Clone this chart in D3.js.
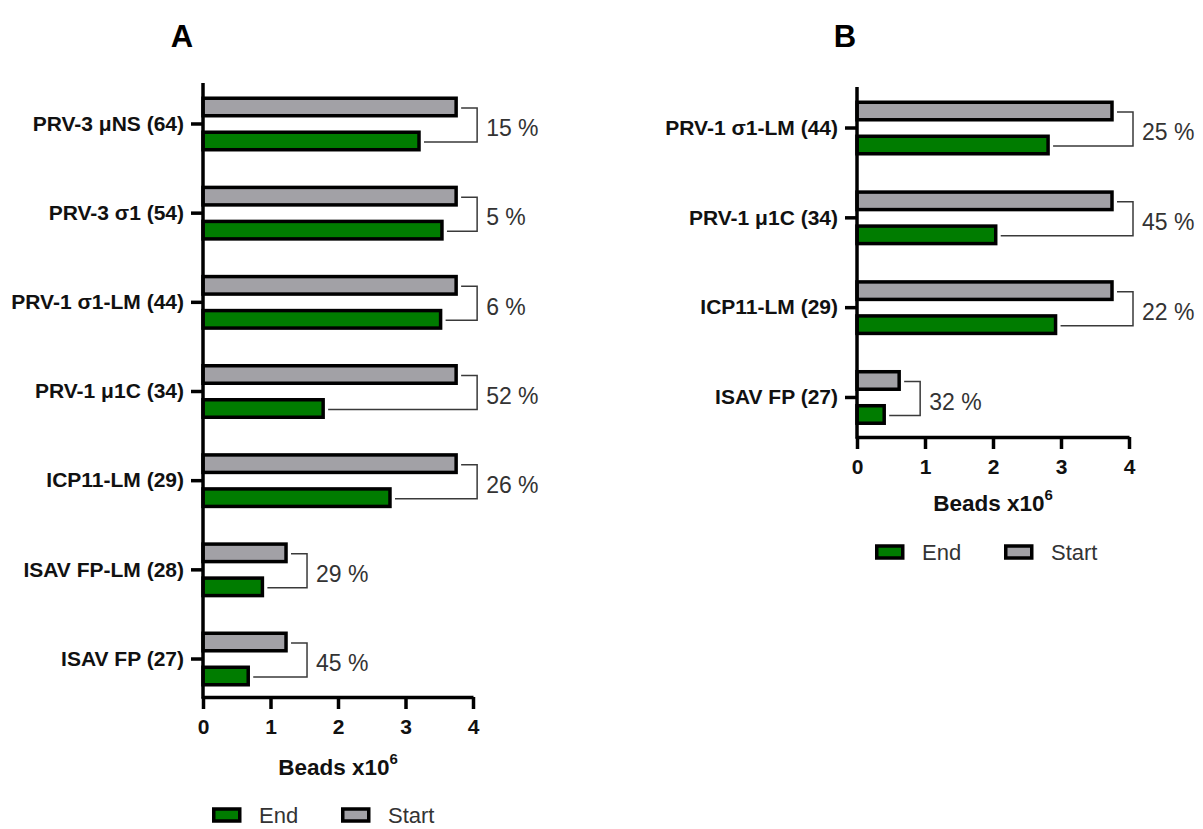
<!DOCTYPE html>
<html>
<head>
<meta charset="utf-8">
<script src="https://cdn.jsdelivr.net/npm/d3@7"></script>
<style>
  body { margin: 0; background: #fff; }
  text { font-family: "Liberation Sans", Arial, sans-serif; }
</style>
</head>
<body>
<div id="CHART"></div>
<script>
// panel A data (Beads x10^6)
var catsA = ["PRV-3 μNS (64)", "PRV-3 σ1 (54)", "PRV-1 σ1-LM (44)", "PRV-1 μ1C (34)", "ICP11-LM (29)", "ISAV FP-LM (28)", "ISAV FP (27)"];
var startA = [3.75, 3.75, 3.75, 3.75, 3.75, 1.23, 1.23];
var endA = [3.2, 3.54, 3.52, 1.78, 2.77, 0.88, 0.67];
var pctA = ["15 %", "5 %", "6 %", "52 %", "26 %", "29 %", "45 %"];

// panel B data
var catsB = ["PRV-1 σ1-LM (44)", "PRV-1 μ1C (34)", "ICP11-LM (29)", "ISAV FP (27)"];
var startB = [3.75, 3.75, 3.75, 0.62];
var endB = [2.81, 2.04, 2.92, 0.40];
var pctB = ["25 %", "45 %", "22 %", "32 %"];

var xTicks = [0, 1, 2, 3, 4];
var seriesNames = ["Start", "End"];

var WIDTH = 1203, HEIGHT = 829;
var GREEN = "#007c00", GREY = "#a2a1a6";
var barH = 17.5, barOff = 17, SW = 3.5;

var svg = d3.select("#CHART")
    .append("svg")
    .attr("width", WIDTH)
    .attr("height", HEIGHT);

function drawPanel(p) {
    var g = svg.append("g");

    var x = d3.scaleLinear().domain([0, 4]).range([p.left, p.right]);
    var y = d3.scaleBand().domain(p.cats).range([p.bandTop, p.bandBottom]);
    var sub = d3.scalePoint().domain(seriesNames).range([-barOff, barOff]);
    var fill = d3.scaleOrdinal().domain(seriesNames).range([GREY, GREEN]);

    var rows = p.cats.map(function(c, i) {
        return { cat: c, Start: p.start[i], End: p.end[i], pct: p.pct[i] };
    });
    function cy(d) { return y(d.cat) + y.bandwidth() / 2; }

    // bars
    var row = g.append("g").selectAll("g")
        .data(rows)
        .enter()
        .append("g");

    row.selectAll("rect")
        .data(function(d) { return seriesNames.map(function(k) { return { k: k, v: d[k], c: cy(d) }; }); })
        .enter()
        .append("rect")
        .attr("x", x(0))
        .attr("y", function(d) { return d.c + sub(d.k) - barH / 2; })
        .attr("width", function(d) { return x(d.v) - x(0); })
        .attr("height", barH)
        .attr("fill", function(d) { return fill(d.k); })
        .attr("stroke", "#000")
        .attr("stroke-width", SW);

    // brackets with percent
    row.append("path")
        .attr("fill", "none")
        .attr("stroke", "#3a3a3a")
        .attr("stroke-width", 1.5)
        .attr("d", function(d) {
            var vx = x(d.Start) + 21;
            var y1 = cy(d) + sub("Start") + 1, y2 = cy(d) + sub("End") + 1;
            return "M" + (x(d.Start) + 5) + "," + y1 + "H" + vx + "V" + y2 + "H" + (x(d.End) + 5);
        });

    row.append("text")
        .attr("x", function(d) { return x(d.Start) + 30; })
        .attr("y", function(d) { return cy(d) + 4 + 8.3; })
        .style("font-size", "23px")
        .attr("fill", "#333")
        .text(function(d) { return d.pct; });

    // y axis
    var ya = g.append("g")
        .attr("transform", "translate(" + x(0) + ",0)")
        .call(d3.axisLeft(y).tickSize(12).tickSizeOuter(0).tickPadding(7));
    ya.select(".domain").remove();
    ya.selectAll("line").attr("stroke", "#000").attr("stroke-width", SW);
    ya.selectAll("text")
        .style("font-size", "21px")
        .style("font-weight", "bold")
        .attr("fill", "#111");
    g.append("line")
        .attr("x1", x(0)).attr("x2", x(0))
        .attr("y1", p.axisTop).attr("y2", p.axisBottom + SW / 2)
        .attr("stroke", "#000")
        .attr("stroke-width", SW);

    // x axis
    var xa = g.append("g")
        .attr("transform", "translate(0," + p.axisBottom + ")")
        .call(d3.axisBottom(x).tickValues(xTicks).tickFormat(d3.format("d")).tickSize(12).tickSizeOuter(0).tickPadding(10));
    xa.select(".domain").attr("stroke", "#000").attr("stroke-width", SW);
    xa.selectAll("line").attr("stroke", "#000").attr("stroke-width", SW);
    xa.selectAll("text")
        .style("font-size", "21px")
        .style("font-weight", "bold")
        .attr("fill", "#111");

    // axis title
    var mid = (p.left + p.right) / 2;
    var t = g.append("text")
        .attr("x", mid)
        .attr("y", p.axisBottom + p.titleOff + 8)
        .attr("text-anchor", "middle")
        .style("font-size", "22.5px")
        .style("font-weight", "bold")
        .attr("fill", "#111")
        .text("Beads x10");
    t.append("tspan")
        .attr("dy", -11)
        .style("font-size", "15px")
        .text("6");

    // panel letter
    g.append("text")
        .attr("x", p.letterX)
        .attr("y", 47)
        .attr("text-anchor", "middle")
        .style("font-size", "31px")
        .style("font-weight", "bold")
        .text(p.letter);

    // legend
    var ly = p.axisBottom + p.legendOff;
    var leg = g.append("g").selectAll("g")
        .data(["End", "Start"])
        .enter()
        .append("g")
        .attr("transform", function(d, i) { return "translate(" + (p.left + p.legendX + i * 129) + "," + ly + ")"; });
    leg.append("rect")
        .attr("x", 1.75).attr("y", -6)
        .attr("width", 26).attr("height", 12)
        .attr("fill", function(d) { return fill(d); })
        .attr("stroke", "#000")
        .attr("stroke-width", SW);
    leg.append("text")
        .attr("x", 47)
        .attr("y", 7.5)
        .style("font-size", "22px")
        .attr("fill", "#333")
        .text(function(d) { return d; });
}

drawPanel({
    cats: catsA, start: startA, end: endA, pct: pctA,
    left: 203, right: 473, bandTop: 79.4, bandBottom: 703.6,
    axisTop: 83, axisBottom: 697, letter: "A", letterX: 182,
    titleOff: 70, legendOff: 118, legendX: 9
});

drawPanel({
    cats: catsB, start: startB, end: endB, pct: pctB,
    left: 857, right: 1129, bandTop: 83.1, bandBottom: 442.4,
    axisTop: 87, axisBottom: 437, letter: "B", letterX: 845,
    titleOff: 66, legendOff: 115, legendX: 18
});
</script>
</body>
</html>
